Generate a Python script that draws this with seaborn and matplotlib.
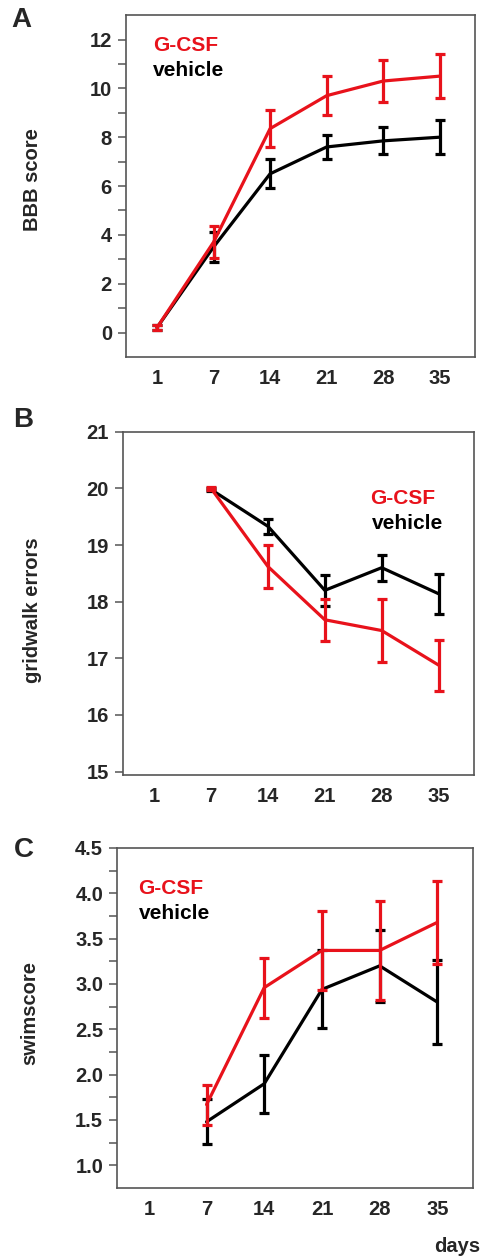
import numpy as np
import pandas as pd
import matplotlib
matplotlib.use("Agg")
import matplotlib.pyplot as plt
import seaborn as sns

# --- data ---
days = ["1", "7", "14", "21", "28", "35"]

bbb_gcsf = [0.2, 3.7, 8.35, 9.7, 10.3, 10.5]
bbb_gcsf_err = [0.1, 0.65, 0.77, 0.8, 0.85, 0.9]
bbb_vehicle = [0.2, 3.5, 6.5, 7.6, 7.85, 8.0]
bbb_vehicle_err = [0.1, 0.6, 0.6, 0.5, 0.55, 0.7]

grid_gcsf = [np.nan, 20.0, 18.62, 17.68, 17.49, 16.88]
grid_gcsf_err = [np.nan, 0.03, 0.38, 0.37, 0.55, 0.45]
grid_vehicle = [np.nan, 19.98, 19.33, 18.2, 18.6, 18.14]
grid_vehicle_err = [np.nan, 0.03, 0.13, 0.27, 0.23, 0.35]

swim_gcsf = [np.nan, 1.67, 2.96, 3.37, 3.37, 3.68]
swim_gcsf_err = [np.nan, 0.22, 0.33, 0.44, 0.55, 0.46]
swim_vehicle = [np.nan, 1.48, 1.9, 2.94, 3.2, 2.8]
swim_vehicle_err = [np.nan, 0.25, 0.32, 0.43, 0.4, 0.46]

RED = "#e8121b"
BLACK = "#000000"
SPINE = "#555555"
FS = 14.5

sns.set_theme(style="ticks")
plt.rcParams["font.family"] = ["Liberation Sans", "DejaVu Sans"]
plt.rcParams["font.weight"] = "bold"


def make_df(gcsf, gcsf_err, vehicle, vehicle_err):
    rows = []
    for grp, vals, errs in [("vehicle", vehicle, vehicle_err), ("G-CSF", gcsf, gcsf_err)]:
        for i, (v, e) in enumerate(zip(vals, errs)):
            if not np.isnan(v):
                rows.append({"pos": i, "day": days[i], "value": v, "err": e, "group": grp})
    return pd.DataFrame(rows)


def draw_panel(ax, df, ylabel):
    pal = {"G-CSF": RED, "vehicle": BLACK}
    # vehicle first, G-CSF drawn on top
    for z, grp in [(2, "vehicle"), (4, "G-CSF")]:
        sub = df[df["group"] == grp]
        sns.lineplot(data=sub, x="pos", y="value", color=pal[grp],
                     linewidth=2.3, legend=False, ax=ax, zorder=z)
        ax.errorbar(sub["pos"], sub["value"], yerr=sub["err"], fmt="none",
                    ecolor=pal[grp], elinewidth=2.3, capsize=3.5, capthick=2.3, zorder=z + 1)
    ax.set_xticks(range(len(days)))
    ax.set_xticklabels(days)
    ax.set_xlim(-0.55, 5.62)
    ax.set_xlabel("")
    ax.set_ylabel(ylabel, fontsize=FS, fontweight="bold")
    ax.tick_params(axis="x", length=0, pad=9, labelsize=FS)
    ax.tick_params(axis="y", which="both", length=6, width=1.1, color=SPINE, labelsize=FS, pad=4)
    for s in ax.spines.values():
        s.set_color(SPINE)
        s.set_linewidth(1.2)
    for lab in ax.get_xticklabels() + ax.get_yticklabels():
        lab.set_fontweight("bold")


fig = plt.figure(figsize=(4.84, 12.57), dpi=100)

# Panel A
axA = fig.add_axes([0.260, 0.716, 0.721, 0.272])
dfA = make_df(bbb_gcsf, bbb_gcsf_err, bbb_vehicle, bbb_vehicle_err)
draw_panel(axA, dfA, "BBB score")
axA.set_ylim(-1, 13)
axA.set_yticks(range(0, 13, 2))
axA.set_yticks(range(1, 12, 2), minor=True)
axA.yaxis.set_label_coords(-0.24, 0.52)
axA.text(0.078, 0.895, "G-CSF", transform=axA.transAxes, color=RED, fontsize=15, fontweight="bold")
axA.text(0.078, 0.822, "vehicle", transform=axA.transAxes, color=BLACK, fontsize=15, fontweight="bold")

# Panel B
axB = fig.add_axes([0.254, 0.3835, 0.725, 0.273])
dfB = make_df(grid_gcsf, grid_gcsf_err, grid_vehicle, grid_vehicle_err)
draw_panel(axB, dfB, "gridwalk errors")
axB.set_ylim(14.94, 21)
axB.set_yticks(range(15, 22))
axB.yaxis.set_label_coords(-0.23, 0.48)
axB.text(0.89, 0.79, "G-CSF", transform=axB.transAxes, color=RED, fontsize=15,
         fontweight="bold", ha="right")
axB.text(0.913, 0.717, "vehicle", transform=axB.transAxes, color=BLACK, fontsize=15,
         fontweight="bold", ha="right")

# Panel C
axC = fig.add_axes([0.242, 0.0549, 0.7355, 0.2705])
dfC = make_df(swim_gcsf, swim_gcsf_err, swim_vehicle, swim_vehicle_err)
draw_panel(axC, dfC, "swimscore")
axC.set_ylim(0.75, 4.5)
axC.set_yticks(np.arange(1.0, 4.51, 0.5))
axC.set_yticks(np.arange(1.25, 4.3, 0.5), minor=True)
axC.set_yticklabels([f"{v:.1f}" for v in np.arange(1.0, 4.51, 0.5)], fontweight="bold")
axC.yaxis.set_label_coords(-0.22, 0.515)
axC.text(0.06, 0.865, "G-CSF", transform=axC.transAxes, color=RED, fontsize=15, fontweight="bold")
axC.text(0.06, 0.79, "vehicle", transform=axC.transAxes, color=BLACK, fontsize=15, fontweight="bold")

# panel letters and axis note
fig.text(0.045, 0.984, "A", fontsize=20, fontweight="bold", va="center", ha="center")
fig.text(0.047, 0.666, "B", fontsize=20, fontweight="bold", va="center", ha="center")
fig.text(0.05, 0.324, "C", fontsize=20, fontweight="bold", va="center", ha="center")
fig.text(0.945, 0.008, "days", fontsize=FS, fontweight="bold", ha="center", va="center")

fig.savefig("out.png", dpi=100)
